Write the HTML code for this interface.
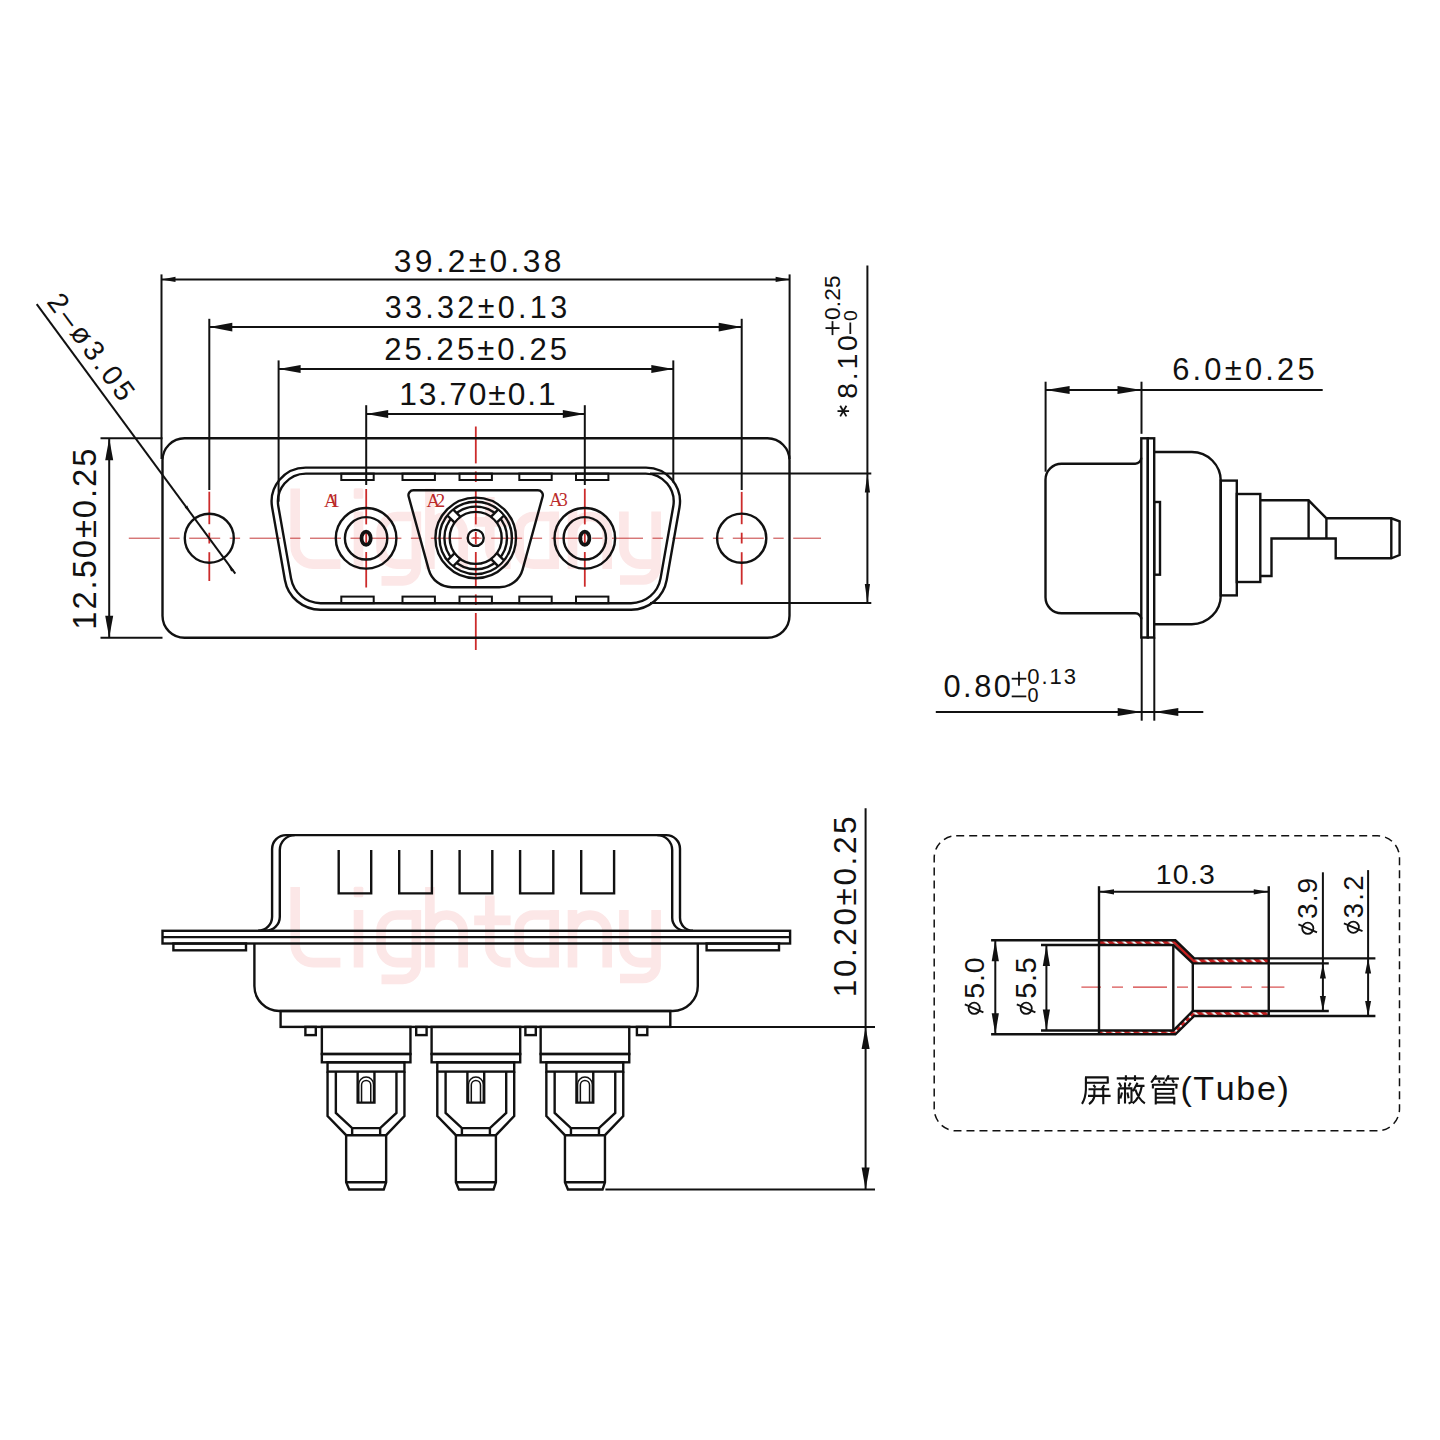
<!DOCTYPE html>
<html><head><meta charset="utf-8"><title>D-SUB 3W3 connector drawing</title>
<style>html,body{margin:0;padding:0;background:#fff;}svg{display:block;}
text{font-family:"Liberation Sans", sans-serif;font-kerning:none;}</style></head>
<body><svg width="1440" height="1440" viewBox="0 0 1440 1440">
<rect width="1440" height="1440" fill="#fff"/>
<g aria-label="Lightany"><g transform="translate(0,-398.5)"><path d="M295.2,887 L295.2,944.6 A18,18 0 0 0 313.2,962.6 L340.4,962.6 M358.5,910 L358.5,967.4 M416.35,915 L397,915 A16,16 0 0 0 381.05,931 L381.05,946.6 A16,16 0 0 0 397,962.6 L416.35,962.6 M416.35,910 L416.35,966 A13.4,13.4 0 0 1 402.95,979.4 L381.5,979.4 M429.9,887 L429.9,967.4 M429.9,931.65 A16.65,16.65 0 0 1 463.2,931.65 L463.2,967.4 M489.8,895.6 L489.8,946.6 A16,16 0 0 0 505.8,962.6 L510.6,962.6 M474.2,920.4 L510.6,920.4 M554.2,910 L554.2,967.4 M554.2,915 L533.6,915 A14.4,14.4 0 0 0 519.2,929.4 L519.2,948.2 A14.4,14.4 0 0 0 533.6,962.6 L554.2,962.6 M572.5,910 L572.5,967.4 M572.5,932.35 A17.35,17.35 0 0 1 607.2,932.35 L607.2,967.4 M623.9,910 L623.9,946.5 A16.1,16.1 0 0 0 640,962.6 L656.1,962.6 M656.1,910 L656.1,965.5 A13,13 0 0 1 643.1,978.5 L620,978.5" fill="none" stroke="#fce7e7" stroke-width="9.6" stroke-linejoin="round"/><rect x="353.7" y="886.8" width="9.6" height="10.4" rx="1.5" fill="#fce7e7"/></g><g transform="translate(0,0)"><path d="M295.2,887 L295.2,944.6 A18,18 0 0 0 313.2,962.6 L340.4,962.6 M358.5,910 L358.5,967.4 M416.35,915 L397,915 A16,16 0 0 0 381.05,931 L381.05,946.6 A16,16 0 0 0 397,962.6 L416.35,962.6 M416.35,910 L416.35,966 A13.4,13.4 0 0 1 402.95,979.4 L381.5,979.4 M429.9,887 L429.9,967.4 M429.9,931.65 A16.65,16.65 0 0 1 463.2,931.65 L463.2,967.4 M489.8,895.6 L489.8,946.6 A16,16 0 0 0 505.8,962.6 L510.6,962.6 M474.2,920.4 L510.6,920.4 M554.2,910 L554.2,967.4 M554.2,915 L533.6,915 A14.4,14.4 0 0 0 519.2,929.4 L519.2,948.2 A14.4,14.4 0 0 0 533.6,962.6 L554.2,962.6 M572.5,910 L572.5,967.4 M572.5,932.35 A17.35,17.35 0 0 1 607.2,932.35 L607.2,967.4 M623.9,910 L623.9,946.5 A16.1,16.1 0 0 0 640,962.6 L656.1,962.6 M656.1,910 L656.1,965.5 A13,13 0 0 1 643.1,978.5 L620,978.5" fill="none" stroke="#fce7e7" stroke-width="9.6" stroke-linejoin="round"/><rect x="353.7" y="886.8" width="9.6" height="10.4" rx="1.5" fill="#fce7e7"/></g></g>
<line x1="128.8" y1="538.2" x2="821" y2="538.2" stroke="#c43a3a" stroke-width="1.0" stroke-dasharray="31 9.5 10.4 9.5" stroke-dashoffset="0"/>
<line x1="209.3" y1="491.7" x2="209.3" y2="524.2" stroke="#cc2b2b" stroke-width="1.8" /><line x1="209.3" y1="532.7" x2="209.3" y2="543.5" stroke="#cc2b2b" stroke-width="1.8" /><line x1="209.3" y1="552.2" x2="209.3" y2="581" stroke="#cc2b2b" stroke-width="1.8" />
<line x1="741.7" y1="491.9" x2="741.7" y2="524.2" stroke="#cc2b2b" stroke-width="1.8" /><line x1="741.7" y1="532.7" x2="741.7" y2="543.5" stroke="#cc2b2b" stroke-width="1.8" /><line x1="741.7" y1="552.2" x2="741.7" y2="584.6" stroke="#cc2b2b" stroke-width="1.8" />
<line x1="366.2" y1="489" x2="366.2" y2="524.4" stroke="#cc2b2b" stroke-width="1.8" /><line x1="366.2" y1="532.5" x2="366.2" y2="544" stroke="#cc2b2b" stroke-width="1.8" /><line x1="366.2" y1="552" x2="366.2" y2="587.5" stroke="#cc2b2b" stroke-width="1.8" />
<line x1="584.8" y1="488.7" x2="584.8" y2="524.4" stroke="#cc2b2b" stroke-width="1.8" /><line x1="584.8" y1="532.5" x2="584.8" y2="544" stroke="#cc2b2b" stroke-width="1.8" /><line x1="584.8" y1="552" x2="584.8" y2="586.7" stroke="#cc2b2b" stroke-width="1.8" />
<line x1="475.8" y1="426.5" x2="475.8" y2="463.4" stroke="#cc2b2b" stroke-width="1.8" /><line x1="475.8" y1="471.4" x2="475.8" y2="482" stroke="#cc2b2b" stroke-width="1.8" /><line x1="475.8" y1="489.4" x2="475.8" y2="524.4" stroke="#cc2b2b" stroke-width="1.8" /><line x1="475.8" y1="532" x2="475.8" y2="544.4" stroke="#cc2b2b" stroke-width="1.8" /><line x1="475.8" y1="552" x2="475.8" y2="587" stroke="#cc2b2b" stroke-width="1.8" /><line x1="475.8" y1="594.4" x2="475.8" y2="605" stroke="#cc2b2b" stroke-width="1.8" /><line x1="475.8" y1="613" x2="475.8" y2="650" stroke="#cc2b2b" stroke-width="1.8" />
<rect x="162.5" y="438.3" width="627" height="199.5" rx="22" stroke="#111" stroke-width="2.4" fill="none"/>
<circle cx="209.3" cy="538.2" r="24.5" stroke="#111" stroke-width="2.4" fill="none"/>
<circle cx="741.7" cy="538.2" r="24.6" stroke="#111" stroke-width="2.4" fill="none"/>
<path d="M305.62,467.60 L645.98,467.60 A34.00,34.00 0 0 1 679.46,507.50 L666.69,579.95 A36.00,36.00 0 0 1 631.24,609.70 L320.36,609.70 A36.00,36.00 0 0 1 284.91,579.95 L272.14,507.50 A34.00,34.00 0 0 1 305.62,467.60 Z" stroke="#111" stroke-width="2.4" fill="none" />
<path d="M305.93,473.60 L645.67,473.60 A28.00,28.00 0 0 1 673.25,506.46 L660.56,578.41 A30.00,30.00 0 0 1 631.02,603.20 L320.58,603.20 A30.00,30.00 0 0 1 291.04,578.41 L278.35,506.46 A28.00,28.00 0 0 1 305.93,473.60 Z" stroke="#111" stroke-width="2.4" fill="none" />
<line x1="650" y1="473.6" x2="871.3" y2="473.6" stroke="#111" stroke-width="2.0" />
<line x1="650" y1="603" x2="871.3" y2="603" stroke="#111" stroke-width="2.0" />
<rect x="341.3" y="473.6" width="32.4" height="6.4" rx="0" stroke="#111" stroke-width="2.0" fill="none"/>
<rect x="341.3" y="596.6" width="32.4" height="6.6" rx="0" stroke="#111" stroke-width="2.0" fill="none"/>
<rect x="402.5" y="473.6" width="32.4" height="6.4" rx="0" stroke="#111" stroke-width="2.0" fill="none"/>
<rect x="402.5" y="596.6" width="32.4" height="6.6" rx="0" stroke="#111" stroke-width="2.0" fill="none"/>
<rect x="459.5" y="473.6" width="32.4" height="6.4" rx="0" stroke="#111" stroke-width="2.0" fill="none"/>
<rect x="459.5" y="596.6" width="32.4" height="6.6" rx="0" stroke="#111" stroke-width="2.0" fill="none"/>
<rect x="519.3" y="473.6" width="32.4" height="6.4" rx="0" stroke="#111" stroke-width="2.0" fill="none"/>
<rect x="519.3" y="596.6" width="32.4" height="6.6" rx="0" stroke="#111" stroke-width="2.0" fill="none"/>
<rect x="576" y="473.6" width="32.4" height="6.4" rx="0" stroke="#111" stroke-width="2.0" fill="none"/>
<rect x="576" y="596.6" width="32.4" height="6.6" rx="0" stroke="#111" stroke-width="2.0" fill="none"/>
<circle cx="366.1" cy="538.3" r="30.3" stroke="#111" stroke-width="2.4" fill="none"/>
<circle cx="366.1" cy="538.3" r="21.2" stroke="#111" stroke-width="2.4" fill="none"/>
<ellipse cx="366.1" cy="538.3" rx="4.6" ry="6.6" stroke="#111" stroke-width="3.8" fill="none"/>
<circle cx="584.8" cy="538.3" r="30.3" stroke="#111" stroke-width="2.4" fill="none"/>
<circle cx="584.8" cy="538.3" r="21.2" stroke="#111" stroke-width="2.4" fill="none"/>
<ellipse cx="584.8" cy="538.3" rx="4.6" ry="6.6" stroke="#111" stroke-width="3.8" fill="none"/>
<path d="M413.46,490.20 L537.84,490.20 A5.00,5.00 0 0 1 542.66,496.53 L522.57,569.56 A24.00,24.00 0 0 1 499.43,587.20 L451.87,587.20 A24.00,24.00 0 0 1 428.73,569.56 L408.64,496.53 A5.00,5.00 0 0 1 413.46,490.20 Z" stroke="#111" stroke-width="2.4" fill="none" />
<circle cx="475.7" cy="537.9" r="40.3" stroke="#111" stroke-width="2.4" fill="none"/>
<circle cx="475.7" cy="537.9" r="36.2" stroke="#111" stroke-width="2.4" fill="none"/>
<circle cx="475.7" cy="537.9" r="31.3" stroke="#111" stroke-width="2.4" fill="none"/>
<circle cx="475.7" cy="537.9" r="26" stroke="#111" stroke-width="2.4" fill="none"/>
<circle cx="475.7" cy="537.9" r="8" stroke="#111" stroke-width="2.4" fill="none"/>
<g transform="translate(475.7,537.9) rotate(45)"><rect x="27.2" y="-4.15" width="7.8" height="8.3" fill="#fff" stroke="none"/><line x1="26" y1="-4.15" x2="36.2" y2="-4.15" stroke="#111" stroke-width="2.4" /><line x1="26" y1="4.15" x2="36.2" y2="4.15" stroke="#111" stroke-width="2.4" /></g>
<g transform="translate(475.7,537.9) rotate(135)"><rect x="27.2" y="-4.15" width="7.8" height="8.3" fill="#fff" stroke="none"/><line x1="26" y1="-4.15" x2="36.2" y2="-4.15" stroke="#111" stroke-width="2.4" /><line x1="26" y1="4.15" x2="36.2" y2="4.15" stroke="#111" stroke-width="2.4" /></g>
<g transform="translate(475.7,537.9) rotate(225)"><rect x="27.2" y="-4.15" width="7.8" height="8.3" fill="#fff" stroke="none"/><line x1="26" y1="-4.15" x2="36.2" y2="-4.15" stroke="#111" stroke-width="2.4" /><line x1="26" y1="4.15" x2="36.2" y2="4.15" stroke="#111" stroke-width="2.4" /></g>
<g transform="translate(475.7,537.9) rotate(315)"><rect x="27.2" y="-4.15" width="7.8" height="8.3" fill="#fff" stroke="none"/><line x1="26" y1="-4.15" x2="36.2" y2="-4.15" stroke="#111" stroke-width="2.4" /><line x1="26" y1="4.15" x2="36.2" y2="4.15" stroke="#111" stroke-width="2.4" /></g>
<line x1="472.7" y1="537.9" x2="478.7" y2="537.9" stroke="#cc2b2b" stroke-width="1.2" />
<text x="324.02" y="506.70" font-size="18.93" letter-spacing="-7.12" fill="#bb2a2a"  style="font-family:'Liberation Serif', serif">A1</text>
<text x="426.52" y="506.70" font-size="18.88" letter-spacing="-4.35" fill="#bb2a2a"  style="font-family:'Liberation Serif', serif">A2</text>
<text x="549.22" y="505.72" font-size="18.01" letter-spacing="-3.43" fill="#bb2a2a"  style="font-family:'Liberation Serif', serif">A3</text>
<line x1="161.5" y1="274.4" x2="161.5" y2="459" stroke="#111" stroke-width="2.0" />
<line x1="789.6" y1="274.4" x2="789.6" y2="459" stroke="#111" stroke-width="2.0" />
<line x1="209.3" y1="318.8" x2="209.3" y2="490" stroke="#111" stroke-width="2.0" />
<line x1="741.7" y1="318.8" x2="741.7" y2="490" stroke="#111" stroke-width="2.0" />
<line x1="278.6" y1="360.4" x2="278.6" y2="501.7" stroke="#111" stroke-width="2.0" />
<line x1="673.3" y1="360.4" x2="673.3" y2="482.5" stroke="#111" stroke-width="2.0" />
<line x1="366.2" y1="405.2" x2="366.2" y2="485" stroke="#111" stroke-width="2.0" />
<line x1="584.8" y1="405.2" x2="584.8" y2="485" stroke="#111" stroke-width="2.0" />
<line x1="161.5" y1="279.4" x2="789.6" y2="279.4" stroke="#111" stroke-width="2.0" />
<polygon points="161.50,279.40 175.50,276.80 175.50,282.00" fill="#111" stroke="none"/>
<polygon points="789.60,279.40 775.60,282.00 775.60,276.80" fill="#111" stroke="none"/>
<line x1="209.3" y1="327.1" x2="741.7" y2="327.1" stroke="#111" stroke-width="2.0" />
<polygon points="209.30,327.10 232.30,322.70 232.30,331.50" fill="#111" stroke="none"/>
<polygon points="741.70,327.10 718.70,331.50 718.70,322.70" fill="#111" stroke="none"/>
<line x1="278.6" y1="369" x2="673.3" y2="369" stroke="#111" stroke-width="2.0" />
<polygon points="278.60,369.00 300.60,365.00 300.60,373.00" fill="#111" stroke="none"/>
<polygon points="673.30,369.00 651.30,373.00 651.30,365.00" fill="#111" stroke="none"/>
<line x1="366.2" y1="414.1" x2="584.8" y2="414.1" stroke="#111" stroke-width="2.0" />
<polygon points="366.20,414.10 388.20,410.10 388.20,418.10" fill="#111" stroke="none"/>
<polygon points="584.80,414.10 562.80,418.10 562.80,410.10" fill="#111" stroke="none"/>
<text x="393.79" y="272.19" font-size="31.78" letter-spacing="3.31" fill="#111"  style="font-family:'Liberation Sans', sans-serif">39.2±0.38</text>
<text x="384.64" y="318.00" font-size="30.51" letter-spacing="3.34" fill="#111"  style="font-family:'Liberation Sans', sans-serif">33.32±0.13</text>
<text x="384.24" y="360.00" font-size="31.07" letter-spacing="3.06" fill="#111"  style="font-family:'Liberation Sans', sans-serif">25.25±0.25</text>
<text x="399.28" y="404.69" font-size="31.78" letter-spacing="1.92" fill="#111"  style="font-family:'Liberation Sans', sans-serif">13.70±0.1</text>
<line x1="100.5" y1="438.3" x2="162.5" y2="438.3" stroke="#111" stroke-width="2.0" />
<line x1="100.5" y1="637.8" x2="162.5" y2="637.8" stroke="#111" stroke-width="2.0" />
<line x1="109.2" y1="438.3" x2="109.2" y2="637.8" stroke="#111" stroke-width="2.0" />
<polygon points="109.20,438.30 113.20,460.30 105.20,460.30" fill="#111" stroke="none"/>
<polygon points="109.20,637.80 105.20,615.80 113.20,615.80" fill="#111" stroke="none"/>
<text transform="translate(95.88,629.70) rotate(-90)" x="0" y="0" font-size="32.77" letter-spacing="1.93" fill="#111"  style="font-family:'Liberation Sans', sans-serif">12.50±0.25</text>
<line x1="867.4" y1="265.4" x2="867.4" y2="603" stroke="#111" stroke-width="2.0" />
<polygon points="867.40,473.60 870.00,492.60 864.80,492.60" fill="#111" stroke="none"/>
<polygon points="867.40,603.00 864.80,584.00 870.00,584.00" fill="#111" stroke="none"/>
<line x1="789.6" y1="459" x2="789.6" y2="459" stroke="#111" stroke-width="2.0" />
<line x1="36.7" y1="304.2" x2="235.3" y2="573.7" stroke="#111" stroke-width="2.0" />
<polygon points="190.10,512.20 184.66,507.51 187.24,505.62" fill="#111" stroke="none"/>
<polygon points="228.30,565.00 233.74,569.69 231.16,571.58" fill="#111" stroke="none"/>
<path d="M1141.3,457.7 A6,6 0 0 1 1135.3,463.7 L1061.5,463.7 A16,16 0 0 0 1045.5,479.7 L1045.5,597.3 A16,16 0 0 0 1061.5,613.3 L1135.3,613.3 A6,6 0 0 1 1141.3,619.3" stroke="#111" stroke-width="2.4" fill="none" />
<rect x="1141.3" y="438.3" width="6.5" height="199.2" rx="0" stroke="#111" stroke-width="2.4" fill="none"/>
<rect x="1147.8" y="438.3" width="6.4" height="199.2" rx="0" stroke="#111" stroke-width="2.4" fill="none"/>
<path d="M1154.2,452 L1191.8,452 A29,29 0 0 1 1220.8,481 L1220.8,595.2 A29,29 0 0 1 1191.8,624.2 L1154.2,624.2" stroke="#111" stroke-width="2.4" fill="none" />
<rect x="1154.2" y="502" width="5.8" height="72.7" rx="0" stroke="#111" stroke-width="2.4" fill="none"/>
<rect x="1220.6" y="480.6" width="16.2" height="114.8" rx="0" stroke="#111" stroke-width="2.4" fill="none"/>
<rect x="1236.8" y="494" width="23.5" height="88" rx="0" stroke="#111" stroke-width="2.4" fill="none"/>
<polyline points="1260.3,500.3 1308.6,500.3 1326.4,518.3 1326.4,538.5" stroke="#111" stroke-width="2.4" fill="none" stroke-linejoin="miter" />
<line x1="1308.6" y1="500.3" x2="1308.6" y2="538.5" stroke="#111" stroke-width="2.4" />
<polyline points="1260.3,576 1271.5,576 1271.5,538.5 1335.7,538.5 1335.7,558.3 1391.3,558.3 1399.6,555 1399.6,521.3 1391.3,518.3 1326.4,518.3" stroke="#111" stroke-width="2.4" fill="none" stroke-linejoin="miter" />
<line x1="1391.3" y1="518.3" x2="1391.3" y2="558.3" stroke="#111" stroke-width="2.4" />
<line x1="1045.6" y1="381.7" x2="1045.6" y2="471.7" stroke="#111" stroke-width="2.0" />
<line x1="1141.5" y1="381.7" x2="1141.5" y2="433.8" stroke="#111" stroke-width="2.0" />
<line x1="1045.6" y1="390" x2="1322.7" y2="390" stroke="#111" stroke-width="2.0" />
<polygon points="1045.60,390.00 1069.60,386.00 1069.60,394.00" fill="#111" stroke="none"/>
<polygon points="1141.50,390.00 1117.50,394.00 1117.50,386.00" fill="#111" stroke="none"/>
<text x="1172.18" y="380.30" font-size="30.86" letter-spacing="3.22" fill="#111"  style="font-family:'Liberation Sans', sans-serif">6.0±0.25</text>
<line x1="1141.7" y1="637.5" x2="1141.7" y2="720.7" stroke="#111" stroke-width="2.0" />
<line x1="1154.3" y1="637.5" x2="1154.3" y2="720.7" stroke="#111" stroke-width="2.0" />
<line x1="935.8" y1="712" x2="1203.3" y2="712" stroke="#111" stroke-width="2.0" />
<polygon points="1141.70,712.00 1117.70,716.00 1117.70,708.00" fill="#111" stroke="none"/>
<polygon points="1154.30,712.00 1178.30,708.00 1178.30,716.00" fill="#111" stroke="none"/>
<text x="943.40" y="696.50" font-size="30.79" letter-spacing="2.56" fill="#111"  style="font-family:'Liberation Sans', sans-serif">0.80</text>
<line x1="1011.7" y1="678.7" x2="1026.3" y2="678.7" stroke="#111" stroke-width="1.8" />
<line x1="1019" y1="671.7" x2="1019" y2="685.7" stroke="#111" stroke-width="1.8" />
<text x="1027.34" y="683.58" font-size="22.03" letter-spacing="1.92" fill="#111"  style="font-family:'Liberation Sans', sans-serif">0.13</text>
<line x1="1011.7" y1="696.4" x2="1026.3" y2="696.4" stroke="#111" stroke-width="1.8" />
<text x="1027.43" y="702.41" font-size="19.77" letter-spacing="0.00" fill="#111"  style="font-family:'Liberation Sans', sans-serif">0</text>
<text transform="translate(856.62,398.73) rotate(-90)" x="0" y="0" font-size="28.39" letter-spacing="2.80" fill="#111"  style="font-family:'Liberation Sans', sans-serif">8.10</text>
<line x1="837.5" y1="411.1" x2="849.1" y2="411.1" stroke="#111" stroke-width="1.8" />
<line x1="840.2" y1="405.8" x2="846.4" y2="416.4" stroke="#111" stroke-width="1.8" />
<line x1="846.4" y1="405.8" x2="840.2" y2="416.4" stroke="#111" stroke-width="1.8" />
<line x1="825.5" y1="328.1" x2="839.5" y2="328.1" stroke="#111" stroke-width="1.8" />
<line x1="832.5" y1="321.1" x2="832.5" y2="335.1" stroke="#111" stroke-width="1.8" />
<text transform="translate(840.18,319.88) rotate(-90)" x="0" y="0" font-size="22.60" letter-spacing="0.12" fill="#111"  style="font-family:'Liberation Sans', sans-serif">0.25</text>
<line x1="850.3" y1="334" x2="850.3" y2="322.5" stroke="#111" stroke-width="1.8" />
<text transform="translate(856.71,320.95) rotate(-90)" x="0" y="0" font-size="19.21" letter-spacing="0.00" fill="#111"  style="font-family:'Liberation Sans', sans-serif">0</text>
<text transform="translate(46.53,303.34) rotate(53.61)" x="-1.43" y="-0.53" font-size="28.46" letter-spacing="3.53" fill="#111" style="font-family:'Liberation Sans', sans-serif">2–ø3.05</text>
<rect x="162.5" y="930.8" width="627.6" height="12.7" rx="0" stroke="#111" stroke-width="2.4" fill="none"/>
<line x1="162.5" y1="937.1" x2="790.1" y2="937.1" stroke="#111" stroke-width="2.4" />
<rect x="173.4" y="943.5" width="72.6" height="6.8" rx="0" stroke="#111" stroke-width="2.4" fill="none"/>
<rect x="706.6" y="943.5" width="72.4" height="6.8" rx="0" stroke="#111" stroke-width="2.4" fill="none"/>
<path d="M258.1,930.8 A14,14 0 0 0 272.1,916.8 L272.1,849.1 A14,14 0 0 1 286.1,835.1 L666.3,835.1 A13.7,13.7 0 0 1 680,848.8 L680,917.8 A13,13 0 0 0 693,930.8" stroke="#111" stroke-width="2.4" fill="none" />
<path d="M265.8,930.8 A14,14 0 0 0 279.8,916.8 L279.8,850.1 A15,15 0 0 1 294.8,835.1 M657.2,835.1 A15,15 0 0 1 672.2,850.1 L672.2,917.8 A13,13 0 0 0 685.2,930.8" stroke="#111" stroke-width="2.4" fill="none" />
<polyline points="338.7,850 338.7,893.4 371.2,893.4 371.2,850" stroke="#111" stroke-width="2.4" fill="none" stroke-linejoin="miter" />
<polyline points="399.2,850 399.2,893.4 431.9,893.4 431.9,850" stroke="#111" stroke-width="2.4" fill="none" stroke-linejoin="miter" />
<polyline points="459.6,850 459.6,893.4 492.3,893.4 492.3,850" stroke="#111" stroke-width="2.4" fill="none" stroke-linejoin="miter" />
<polyline points="520.1,850 520.1,893.4 553.3,893.4 553.3,850" stroke="#111" stroke-width="2.4" fill="none" stroke-linejoin="miter" />
<polyline points="581.2,850 581.2,893.4 614.1,893.4 614.1,850" stroke="#111" stroke-width="2.4" fill="none" stroke-linejoin="miter" />
<path d="M254.4,943.5 L254.4,986 A25,25 0 0 0 279.4,1011 L672.8,1011 A25,25 0 0 0 697.8,986 L697.8,943.5" stroke="#111" stroke-width="2.4" fill="none" />
<rect x="280.6" y="1011" width="389.7" height="15.9" rx="0" stroke="#111" stroke-width="2.4" fill="none"/>
<rect x="305.4" y="1026.9" width="10.4" height="8.2" rx="0" stroke="#111" stroke-width="2.4" fill="none"/>
<rect x="416.2" y="1026.9" width="10.4" height="8.2" rx="0" stroke="#111" stroke-width="2.4" fill="none"/>
<rect x="525.4" y="1026.9" width="10.4" height="8.2" rx="0" stroke="#111" stroke-width="2.4" fill="none"/>
<rect x="636.9" y="1026.9" width="10.4" height="8.2" rx="0" stroke="#111" stroke-width="2.4" fill="none"/>
<rect x="321.85" y="1026.9" width="88.6" height="27.1" rx="0" stroke="#111" stroke-width="2.4" fill="none"/>
<rect x="321.85" y="1054" width="88.6" height="8.3" rx="0" stroke="#111" stroke-width="2.4" fill="none"/>
<rect x="327.55" y="1062.3" width="76.9" height="9.3" rx="0" stroke="#111" stroke-width="2.4" fill="none"/>
<polyline points="327.55,1071.6 327.55,1116 346.15,1135.2 386.15,1135.2 404.45,1116 404.45,1071.6" stroke="#111" stroke-width="2.4" fill="none" stroke-linejoin="miter" />
<polyline points="335.85,1071.6 335.85,1113 352.15,1128.1 380.15,1128.1 396.45,1113 396.45,1071.6" stroke="#111" stroke-width="2.4" fill="none" stroke-linejoin="miter" />
<line x1="352.15" y1="1128.1" x2="352.15" y2="1135.2" stroke="#111" stroke-width="2.4" />
<line x1="380.15" y1="1128.1" x2="380.15" y2="1135.2" stroke="#111" stroke-width="2.4" />
<polyline points="346.15,1135.2 346.15,1182.2 349.15,1189.5 383.75,1189.5 386.15,1182.2 386.15,1135.2" stroke="#111" stroke-width="2.4" fill="none" stroke-linejoin="miter" />
<line x1="346.15" y1="1182.2" x2="386.15" y2="1182.2" stroke="#111" stroke-width="2.4" />
<polyline points="357.65,1071.6 357.65,1102.6 374.45,1102.6 374.45,1071.6" stroke="#111" stroke-width="2.4" fill="none" stroke-linejoin="miter" />
<path d="M358.75,1102.6 L358.75,1084.5 A7.4,7.4 0 0 1 373.55,1084.5 L373.55,1102.6" stroke="#111" stroke-width="1.5" fill="none" />
<path d="M361.55,1102.6 L361.55,1085 A4.6,4.6 0 0 1 370.75,1085 L370.75,1102.6" stroke="#111" stroke-width="1.5" fill="none" />
<rect x="431.6" y="1026.9" width="88.6" height="27.1" rx="0" stroke="#111" stroke-width="2.4" fill="none"/>
<rect x="431.6" y="1054" width="88.6" height="8.3" rx="0" stroke="#111" stroke-width="2.4" fill="none"/>
<rect x="437.3" y="1062.3" width="76.9" height="9.3" rx="0" stroke="#111" stroke-width="2.4" fill="none"/>
<polyline points="437.3,1071.6 437.3,1116 455.9,1135.2 495.9,1135.2 514.2,1116 514.2,1071.6" stroke="#111" stroke-width="2.4" fill="none" stroke-linejoin="miter" />
<polyline points="445.6,1071.6 445.6,1113 461.9,1128.1 489.9,1128.1 506.2,1113 506.2,1071.6" stroke="#111" stroke-width="2.4" fill="none" stroke-linejoin="miter" />
<line x1="461.9" y1="1128.1" x2="461.9" y2="1135.2" stroke="#111" stroke-width="2.4" />
<line x1="489.9" y1="1128.1" x2="489.9" y2="1135.2" stroke="#111" stroke-width="2.4" />
<polyline points="455.9,1135.2 455.9,1182.2 458.9,1189.5 493.5,1189.5 495.9,1182.2 495.9,1135.2" stroke="#111" stroke-width="2.4" fill="none" stroke-linejoin="miter" />
<line x1="455.9" y1="1182.2" x2="495.9" y2="1182.2" stroke="#111" stroke-width="2.4" />
<polyline points="467.4,1071.6 467.4,1102.6 484.2,1102.6 484.2,1071.6" stroke="#111" stroke-width="2.4" fill="none" stroke-linejoin="miter" />
<path d="M468.50,1102.6 L468.50,1084.5 A7.4,7.4 0 0 1 483.30,1084.5 L483.30,1102.6" stroke="#111" stroke-width="1.5" fill="none" />
<path d="M471.30,1102.6 L471.30,1085 A4.6,4.6 0 0 1 480.50,1085 L480.50,1102.6" stroke="#111" stroke-width="1.5" fill="none" />
<rect x="540.65" y="1026.9" width="88.6" height="27.1" rx="0" stroke="#111" stroke-width="2.4" fill="none"/>
<rect x="540.65" y="1054" width="88.6" height="8.3" rx="0" stroke="#111" stroke-width="2.4" fill="none"/>
<rect x="546.35" y="1062.3" width="76.9" height="9.3" rx="0" stroke="#111" stroke-width="2.4" fill="none"/>
<polyline points="546.35,1071.6 546.35,1116 564.95,1135.2 604.95,1135.2 623.25,1116 623.25,1071.6" stroke="#111" stroke-width="2.4" fill="none" stroke-linejoin="miter" />
<polyline points="554.65,1071.6 554.65,1113 570.95,1128.1 598.95,1128.1 615.25,1113 615.25,1071.6" stroke="#111" stroke-width="2.4" fill="none" stroke-linejoin="miter" />
<line x1="570.95" y1="1128.1" x2="570.95" y2="1135.2" stroke="#111" stroke-width="2.4" />
<line x1="598.95" y1="1128.1" x2="598.95" y2="1135.2" stroke="#111" stroke-width="2.4" />
<polyline points="564.95,1135.2 564.95,1182.2 567.95,1189.5 602.55,1189.5 604.95,1182.2 604.95,1135.2" stroke="#111" stroke-width="2.4" fill="none" stroke-linejoin="miter" />
<line x1="564.95" y1="1182.2" x2="604.95" y2="1182.2" stroke="#111" stroke-width="2.4" />
<polyline points="576.45,1071.6 576.45,1102.6 593.25,1102.6 593.25,1071.6" stroke="#111" stroke-width="2.4" fill="none" stroke-linejoin="miter" />
<path d="M577.55,1102.6 L577.55,1084.5 A7.4,7.4 0 0 1 592.35,1084.5 L592.35,1102.6" stroke="#111" stroke-width="1.5" fill="none" />
<path d="M580.35,1102.6 L580.35,1085 A4.6,4.6 0 0 1 589.55,1085 L589.55,1102.6" stroke="#111" stroke-width="1.5" fill="none" />
<line x1="670.3" y1="1026.9" x2="875" y2="1026.9" stroke="#111" stroke-width="2.0" />
<line x1="605.4" y1="1189.5" x2="875" y2="1189.5" stroke="#111" stroke-width="2.0" />
<line x1="865.6" y1="808.3" x2="865.6" y2="1189.5" stroke="#111" stroke-width="2.0" />
<polygon points="865.60,1026.90 869.60,1048.90 861.60,1048.90" fill="#111" stroke="none"/>
<polygon points="865.60,1189.50 861.60,1167.50 869.60,1167.50" fill="#111" stroke="none"/>
<text transform="translate(855.99,997.21) rotate(-90)" x="0" y="0" font-size="31.64" letter-spacing="2.53" fill="#111"  style="font-family:'Liberation Sans', sans-serif">10.20±0.25</text>
<rect x="934.2" y="835.8" width="465.3" height="295" rx="22" fill="none" stroke="#111" stroke-width="1.5" stroke-dasharray="8 5"/>
<defs><pattern id="hp" patternUnits="userSpaceOnUse" width="6.5" height="6.5" patternTransform="rotate(-45)"><rect width="6.5" height="6.5" fill="#fff"/><rect width="4.2" height="6.5" fill="#c62020"/></pattern></defs>
<polygon points="1099,940.3 1175.4,940.3 1194.2,958.4 1268.75,958.4 1268.75,963.4 1192.8,963.4 1173.3,945 1099,945" stroke="none" stroke-width="0" fill="url(#hp)" stroke-linejoin="miter" />
<polygon points="1099,1034.3 1175.4,1034.3 1194.2,1016 1268.75,1016 1268.75,1011 1192.8,1011 1173.3,1030.5 1099,1030.5" stroke="none" stroke-width="0" fill="url(#hp)" stroke-linejoin="miter" />
<line x1="1081.4" y1="987.1" x2="1101" y2="987.1" stroke="#d23a3a" stroke-width="1.1" />
<line x1="1112" y1="987.1" x2="1123" y2="987.1" stroke="#d23a3a" stroke-width="1.1" />
<line x1="1133" y1="987.1" x2="1167" y2="987.1" stroke="#d23a3a" stroke-width="1.1" />
<line x1="1177" y1="987.1" x2="1188" y2="987.1" stroke="#d23a3a" stroke-width="1.1" />
<line x1="1197.6" y1="987.1" x2="1231.7" y2="987.1" stroke="#d23a3a" stroke-width="1.1" />
<line x1="1241" y1="987.1" x2="1252" y2="987.1" stroke="#d23a3a" stroke-width="1.1" />
<line x1="1261.5" y1="987.1" x2="1284.4" y2="987.1" stroke="#d23a3a" stroke-width="1.1" />
<polyline points="991.1,940.3 1175.4,940.3 1194.2,958.4 1375.4,958.4" stroke="#111" stroke-width="2.4" fill="none" stroke-linejoin="miter" />
<polyline points="1041,945 1173.3,945 1192.8,963.4 1328.8,963.4" stroke="#111" stroke-width="2.4" fill="none" stroke-linejoin="miter" />
<polyline points="1041,1030.5 1173.3,1030.5 1192.8,1011 1328.8,1011" stroke="#111" stroke-width="2.4" fill="none" stroke-linejoin="miter" />
<polyline points="991.1,1034.3 1175.4,1034.3 1194.2,1016 1375.4,1016" stroke="#111" stroke-width="2.4" fill="none" stroke-linejoin="miter" />
<line x1="1099" y1="886.2" x2="1099" y2="1034.3" stroke="#111" stroke-width="2.4" />
<line x1="1268.75" y1="886.2" x2="1268.75" y2="1016" stroke="#111" stroke-width="2.4" />
<line x1="1173.3" y1="945" x2="1173.3" y2="1030.5" stroke="#111" stroke-width="2.4" />
<line x1="1192.8" y1="963.4" x2="1192.8" y2="1011" stroke="#111" stroke-width="2.4" />
<line x1="1099" y1="891.8" x2="1268.75" y2="891.8" stroke="#111" stroke-width="2.0" />
<polygon points="1099.00,891.80 1114.00,889.20 1114.00,894.40" fill="#111" stroke="none"/>
<polygon points="1268.75,891.80 1253.75,894.40 1253.75,889.20" fill="#111" stroke="none"/>
<text x="1155.84" y="883.72" font-size="28.39" letter-spacing="1.25" fill="#111"  style="font-family:'Liberation Sans', sans-serif">10.3</text>
<line x1="995.3" y1="940.3" x2="995.3" y2="1034.3" stroke="#111" stroke-width="2.0" />
<polygon points="995.30,940.30 998.90,961.30 991.70,961.30" fill="#111" stroke="none"/>
<polygon points="995.30,1034.30 991.70,1013.30 998.90,1013.30" fill="#111" stroke="none"/>
<line x1="1046.4" y1="945" x2="1046.4" y2="1030.5" stroke="#111" stroke-width="2.0" />
<polygon points="1046.40,945.00 1050.00,966.00 1042.80,966.00" fill="#111" stroke="none"/>
<polygon points="1046.40,1030.50 1042.80,1009.50 1050.00,1009.50" fill="#111" stroke="none"/>
<text transform="translate(983.92,998.64) rotate(-90)" x="0" y="0" font-size="28.53" letter-spacing="0.80" fill="#111"  style="font-family:'Liberation Sans', sans-serif">5.0</text>
<circle cx="974.2" cy="1008.3" r="5.6" stroke="#111" stroke-width="1.8" fill="none"/><line x1="964.8" y1="1004.4" x2="983.4" y2="1012.3" stroke="#111" stroke-width="1.8" />
<text transform="translate(1035.97,998.66) rotate(-90)" x="0" y="0" font-size="29.02" letter-spacing="0.52" fill="#111"  style="font-family:'Liberation Sans', sans-serif">5.5</text>
<circle cx="1026.2" cy="1008.3" r="5.6" stroke="#111" stroke-width="1.8" fill="none"/><line x1="1016.8" y1="1004.4" x2="1035.4" y2="1012.3" stroke="#111" stroke-width="1.8" />
<line x1="1322.9" y1="872.3" x2="1322.9" y2="1011" stroke="#111" stroke-width="2.0" />
<polygon points="1322.90,963.40 1325.90,978.40 1319.90,978.40" fill="#111" stroke="none"/>
<polygon points="1322.90,1011.00 1319.90,996.00 1325.90,996.00" fill="#111" stroke="none"/>
<line x1="1368.1" y1="870.1" x2="1368.1" y2="1016" stroke="#111" stroke-width="2.0" />
<polygon points="1368.10,958.40 1371.10,973.40 1365.10,973.40" fill="#111" stroke="none"/>
<polygon points="1368.10,1016.00 1365.10,1001.00 1371.10,1001.00" fill="#111" stroke="none"/>
<text transform="translate(1316.92,918.88) rotate(-90)" x="0" y="0" font-size="28.25" letter-spacing="0.87" fill="#111"  style="font-family:'Liberation Sans', sans-serif">3.9</text>
<circle cx="1307.8" cy="928.3" r="5.6" stroke="#111" stroke-width="1.8" fill="none"/><line x1="1298.4" y1="924.4" x2="1317" y2="932.3" stroke="#111" stroke-width="1.8" />
<text transform="translate(1362.53,918.25) rotate(-90)" x="0" y="0" font-size="27.54" letter-spacing="2.22" fill="#111"  style="font-family:'Liberation Sans', sans-serif">3.2</text>
<circle cx="1353.3" cy="927.2" r="5.6" stroke="#111" stroke-width="1.8" fill="none"/><line x1="1343.9" y1="923.3" x2="1362.5" y2="931.2" stroke="#111" stroke-width="1.8" />
<g aria-label="屏蔽管"><path d="M1085,1077.4 L1108.6,1077.4 M1107.75,1077.4 L1107.75,1083.6 M1086.8,1082.75 L1107.75,1082.75 M1085.9,1077.4 L1085.9,1089.5 Q1085.6,1098 1082,1103.9 M1093.4,1085 L1095.5,1087.7 M1104.3,1085 L1102,1088.3 M1088.5,1089.25 L1109.2,1089.25 M1088,1095.9 L1110.6,1095.9 M1094.4,1089.25 L1094.3,1097 Q1093,1101.5 1089,1104.1 M1103.2,1087.5 L1103.3,1104.3" stroke="#111" stroke-width="2.1" fill="none" stroke-linecap="butt" stroke-linejoin="miter"/><path d="M1116.75,1078.4 L1143.9,1078.4 M1125.9,1075.2 L1125.9,1080.7 M1135,1075.2 L1135,1080.9 M1119,1082.75 L1121.3,1086.8 M1125,1082.5 L1125,1103.6 M1130.6,1082.75 L1128.5,1086.6 M1118.4,1088.4 L1132.4,1088.4 M1118.75,1088.4 L1118.75,1103.9 M1131.5,1088.4 L1131.5,1102 L1128.6,1103.7 M1122,1092.5 L1120.4,1098.6 M1127.4,1092.5 L1128.6,1098.3 M1137.5,1082.7 L1133,1091.2 M1136.2,1085.9 L1144.5,1085.9 M1141.75,1086.25 Q1139.8,1098 1132.7,1103.4 M1135.4,1089.5 Q1138.3,1099 1144.9,1103.4" stroke="#111" stroke-width="2.1" fill="none" stroke-linecap="butt" stroke-linejoin="miter"/><path d="M1156.3,1075.3 L1151.2,1082.6 M1154,1078.6 L1164.6,1078.6 M1158.5,1080.2 L1160,1082.6 M1168.8,1075.3 L1165.4,1081.3 M1167.5,1078.6 L1178.9,1078.6 M1172.2,1080 L1174,1082.6 M1163.7,1081.6 L1164.6,1084.2 M1152.9,1084.75 L1177,1084.75 M1152.9,1083.9 L1152.9,1088.4 M1176.6,1083.9 L1176.3,1088.6 M1155.75,1088.2 L1155.75,1104.4 M1155.75,1089 L1173.25,1089 L1173.25,1094.7 M1155.75,1093.75 L1173.25,1093.75 M1155.75,1097.75 L1174.25,1097.75 L1174.25,1104.4 M1155.75,1102.4 L1174.25,1102.4" stroke="#111" stroke-width="2.1" fill="none" stroke-linecap="butt" stroke-linejoin="miter"/></g>
<text x="1180.39" y="1100.46" font-size="34.03" letter-spacing="1.64" fill="#111"  style="font-family:'Liberation Sans', sans-serif">(Tube)</text>
</svg></body></html>
